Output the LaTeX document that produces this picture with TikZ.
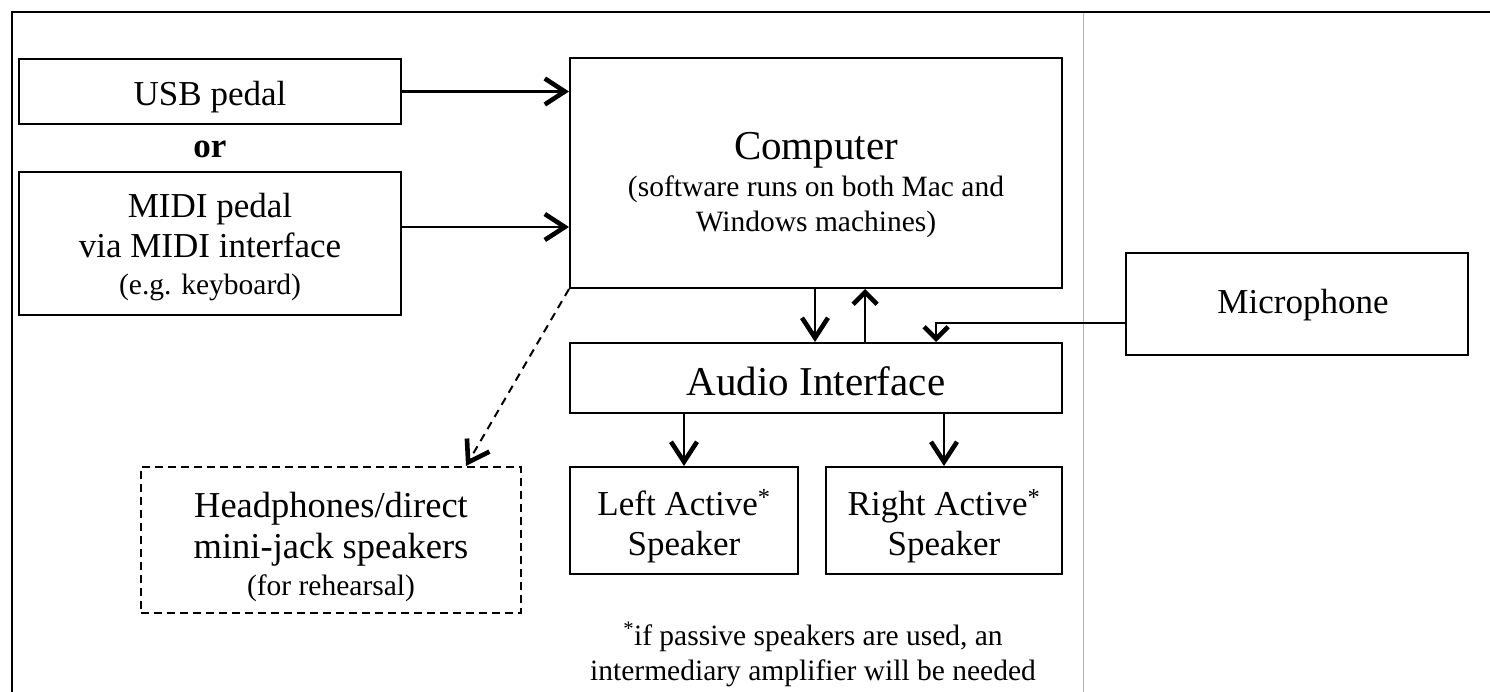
\documentclass[tikz,border=0pt]{standalone}
\usepackage{fontspec}
\setmainfont{Liberation Serif}
\usetikzlibrary{arrows.meta}
\newcommand\FBig{\fontsize{41}{48}\selectfont}
\newcommand\FMid{\fontsize{35}{40}\selectfont}
\newcommand\FHead{\fontsize{36.5}{41}\selectfont}
\newcommand\FSmall{\fontsize{29.5}{35}\selectfont}
\tikzset{
  box/.style={draw, line width=2pt, rectangle, inner sep=0pt},
  dbox/.style={box, dash pattern=on 8pt off 5pt},
  txt/.style={anchor=base, inner sep=0pt},
  conn/.style={line width=2.2pt, -{Straight Barb[length=20pt, width=26pt, line width=4.6pt 0]}},
  connshort/.style={line width=2.2pt, -{Straight Barb[length=12pt, width=24pt, line width=4.6pt 0]}},
  dconn/.style={conn, line width=2pt, dash pattern=on 8pt off 6pt},
  frame/.style={line width=1.6pt},
  divider/.style={line width=1pt, draw=black!30}
}
\begin{document}
\begin{tikzpicture}[x=1pt, y=-1pt]
\useasboundingbox (0,0) rectangle (1490,692);
% frame
\coordinate (fb) at (12,692);
\coordinate (fc) at (12,12);
\coordinate (fr) at (1490,12);
\coordinate (gt) at (1083,13);
\coordinate (gb) at (1083,692);
\draw[divider] (gt) -- (gb);
\draw[frame] (fb) -- (fc) -- (fr);
% boxes
\node[box, minimum width=382pt, minimum height=65pt] (usb) at (210,91.5) {};
\node[box, minimum width=382pt, minimum height=143pt] (midi) at (210,243.5) {};
\node[box, minimum width=492pt, minimum height=230pt] (comp) at (816,173) {};
\node[box, minimum width=492pt, minimum height=70pt] (audio) at (816,378) {};
\node[box, minimum width=228pt, minimum height=107pt] (left) at (684,520.5) {};
\node[box, minimum width=236pt, minimum height=107pt] (right) at (944,520.5) {};
\node[dbox, minimum width=380pt, minimum height=146pt] (head) at (331,540) {};
\node[box, minimum width=342pt, minimum height=102pt] (mic) at (1297,304) {};
% texts
\node[txt, font=\FMid] (tusb) at (210,106) {USB pedal};
\node[txt, font=\FMid\bfseries] (tor) at (210,158) {or};
\node[txt, font=\FMid] (tmidi1) at (210,218) {MIDI pedal};
\node[txt, font=\FMid] (tmidi2) at (210,258) {via MIDI interface};
\node[txt, font=\FSmall] (tmidi3) at (210,295) {(e.g. keyboard)};
\node[txt, font=\FBig] (tcomp1) at (816,160) {Computer};
\node[txt, font=\FSmall] (tcomp2) at (816,197) {(software runs on both Mac and};
\node[txt, font=\FSmall] (tcomp3) at (816,232) {Windows machines)};
\node[txt, font=\FBig] (taudio) at (816,395) {Audio Interface};
\node[txt, font=\FMid] (tleft1) at (684,515) {Left Active\textsuperscript{*}};
\node[txt, font=\FMid] (tleft2) at (684,555) {Speaker};
\node[txt, font=\FMid] (tright1) at (944,515) {Right Active\textsuperscript{*}};
\node[txt, font=\FMid] (tright2) at (944,555) {Speaker};
\node[txt, font=\FHead] (thead1) at (331,517) {Headphones/direct};
\node[txt, font=\FHead] (thead2) at (331,558) {mini-jack speakers};
\node[txt, font=\FSmall] (thead3) at (331,595) {(for rehearsal)};
\node[txt, font=\FMid] (tmic) at (1303,314) {Microphone};
\node[txt, font=\FSmall] (tnote1) at (813,645) {\textsuperscript{*}if passive speakers are used, an};
\node[txt, font=\FSmall] (tnote2) at (813,680) {intermediary amplifier will be needed};
% connectors
\draw[conn] (usb.east) -- (usb.east -| comp.west);
\coordinate (m1) at ([yshift=16.5pt]midi.east);
\draw[conn] (m1) -- (m1 -| comp.west);
\draw[conn] ([xshift=-1pt]comp.south) -- ([xshift=-1pt]audio.north);
\draw[connshort] ([xshift=49pt]audio.north) -- ([xshift=49pt]comp.south);
\coordinate (m2) at ([yshift=-19pt]mic.west);
\draw[connshort] (m2) -| ([xshift=120pt]audio.north);
\draw[conn] (audio.south -| left.north) -- (left.north);
\draw[conn] (audio.south -| right.north) -- (right.north);
\draw[dconn] (comp.south west) -- ([xshift=-56pt]head.north east);
\end{tikzpicture}
\end{document}
